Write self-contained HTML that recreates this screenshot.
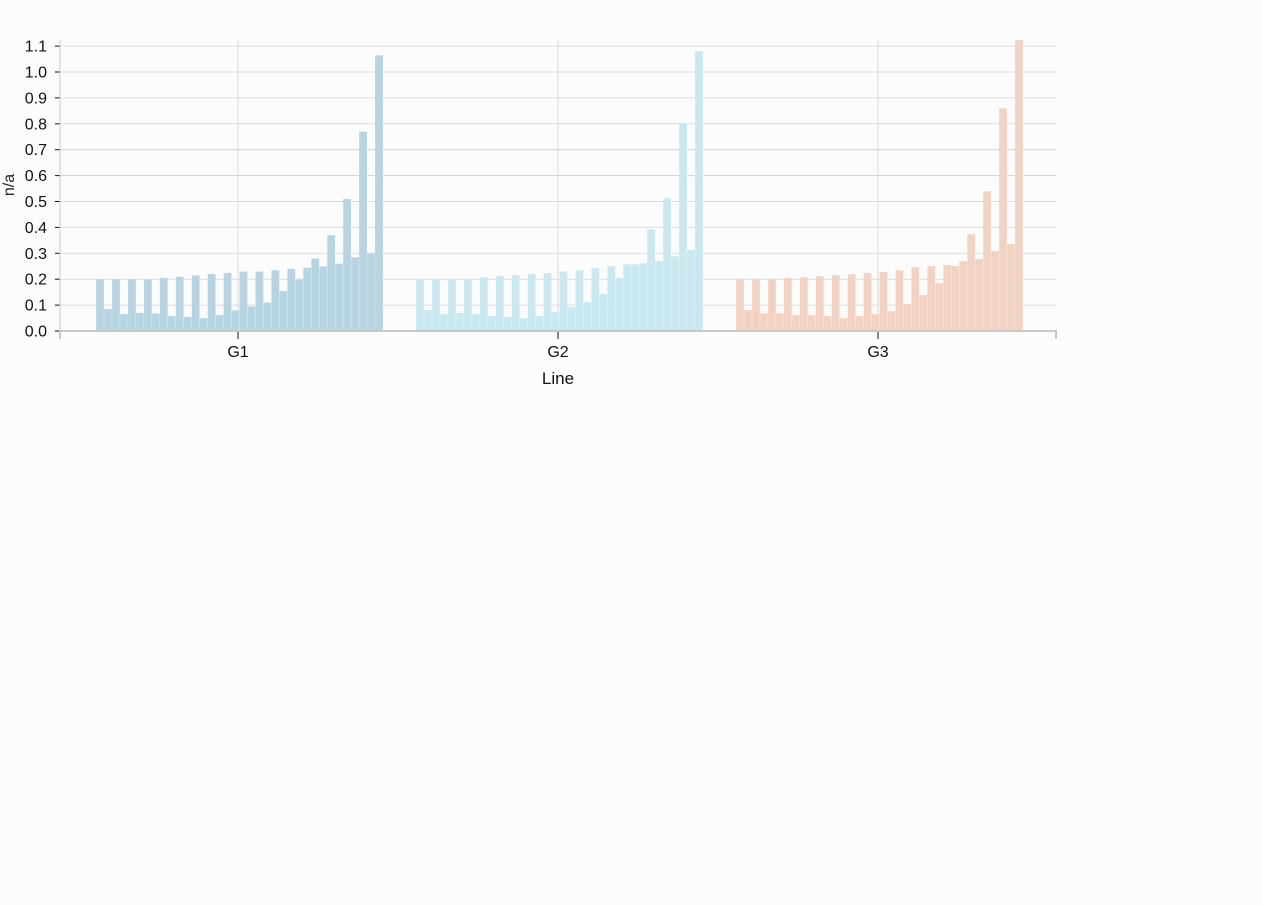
<!DOCTYPE html>
<html><head><meta charset="utf-8"><style>
html,body{margin:0;padding:0;background:#fcfcfc;}
svg{display:block;font-family:"Liberation Sans",sans-serif;}
</style></head><body>
<svg id="chart" width="1262" height="905">
<rect x="0" y="0" width="1262" height="905" fill="#fcfcfc"/>
<g id="grid"></g>
<g id="bars"></g>
<g id="axes"></g>
<text x="14" y="185" transform="rotate(-90 14 185)" text-anchor="middle" font-size="16" fill="#222">n/a</text>
<text x="558" y="384" text-anchor="middle" font-size="17" fill="#111">Line</text>
</svg>
<script>
const groups = ["G1","G2","G3"];
const colors = ["#b6d4e1","#c9e8f0","#f2d2c2"];
const g1Values = [0.2,0.085,0.2,0.066,0.2,0.07,0.2,0.068,0.205,0.058,0.21,0.055,0.215,0.05,0.22,0.062,0.225,0.08,0.23,0.095,0.23,0.11,0.235,0.155,0.24,0.2,0.245,0.28,0.25,0.37,0.26,0.51,0.285,0.77,0.3,1.065];
const g2Values = [0.2,0.081,0.2,0.066,0.2,0.07,0.2,0.066,0.208,0.058,0.212,0.055,0.216,0.05,0.22,0.058,0.224,0.073,0.23,0.093,0.235,0.112,0.243,0.143,0.25,0.205,0.258,0.258,0.262,0.393,0.27,0.513,0.289,0.803,0.313,1.081];
const g3Values = [0.2,0.081,0.2,0.069,0.2,0.069,0.205,0.062,0.208,0.062,0.212,0.058,0.216,0.05,0.22,0.058,0.224,0.066,0.228,0.077,0.235,0.104,0.247,0.139,0.251,0.185,0.255,0.251,0.27,0.374,0.278,0.54,0.309,0.86,0.336,1.124];
const yTicks = [0,0.1,0.2,0.3,0.4,0.5,0.6,0.7,0.8,0.9,1.0,1.1];
const yTickLabels = ["0.0","0.1","0.2","0.3","0.4","0.5","0.6","0.7","0.8","0.9","1.0","1.1"];
const series = [g1Values,g2Values,g3Values];

const NS="http://www.w3.org/2000/svg";
const X0=60,X1=1056,Y0=331,TOP=40;
function y(v){return Y0 - v*259;}
function groupCenter(i){return 238 + i*320;}
function mk(tag,attrs,parent){const e=document.createElementNS(NS,tag);for(const k in attrs)e.setAttribute(k,attrs[k]);parent.appendChild(e);return e;}
const grid=document.getElementById('grid'),barsG=document.getElementById('bars'),axes=document.getElementById('axes');

yTicks.forEach((t,i)=>{
  const l=mk('line',{x1:X0,x2:X1,y1:y(t),y2:y(t),stroke:(t===0.6||t===0.7)?'#d0d0d0':'#dcdcdc','stroke-width':1},grid);
  
  
  const tk=mk('line',{x1:X0-5,x2:X0,y1:y(t),y2:y(t),stroke:'#111','stroke-width':1},axes);
  
  
  const tx=mk('text',{x:47,y:y(t)+5.5,'text-anchor':'end','font-size':16,fill:'#111'},axes);
  tx.textContent=yTickLabels[i];
  
  
});
groups.forEach((g,i)=>{
  const c=groupCenter(i);
  const gl=mk('line',{x1:c,x2:c,y1:TOP,y2:Y0,stroke:'#dcdcdc','stroke-width':1},grid);
  
  
  const vals=series[i];
  const bw=7.97, start=c+1.5-vals.length*bw/2;
  vals.forEach((v,j)=>{
    const top=Math.max(TOP,y(v));
    const r=mk('rect',{x:start+j*bw,y:top,width:bw,height:Y0-top,fill:colors[i],stroke:'rgba(255,255,255,0.35)','stroke-width':0.6},barsG);
    
    
  });
  const tk=mk('line',{x1:c,x2:c,y1:Y0,y2:Y0+8,stroke:'#111','stroke-width':1},axes);
  
  
  const tx=mk('text',{x:c,y:357,'text-anchor':'middle','font-size':16,fill:'#111'},axes);
  tx.textContent=g;
  
  
});
const ya=mk('line',{x1:X0,x2:X0,y1:TOP,y2:Y0+8,stroke:'#c8c8c8','stroke-width':1},axes);


const xa=mk('path',{d:`M${X0},${Y0+8}V${Y0}H${X1}V${Y0+8}`,fill:'none',stroke:'#c8c8c8','stroke-width':2},axes);


</script>
</body></html>
